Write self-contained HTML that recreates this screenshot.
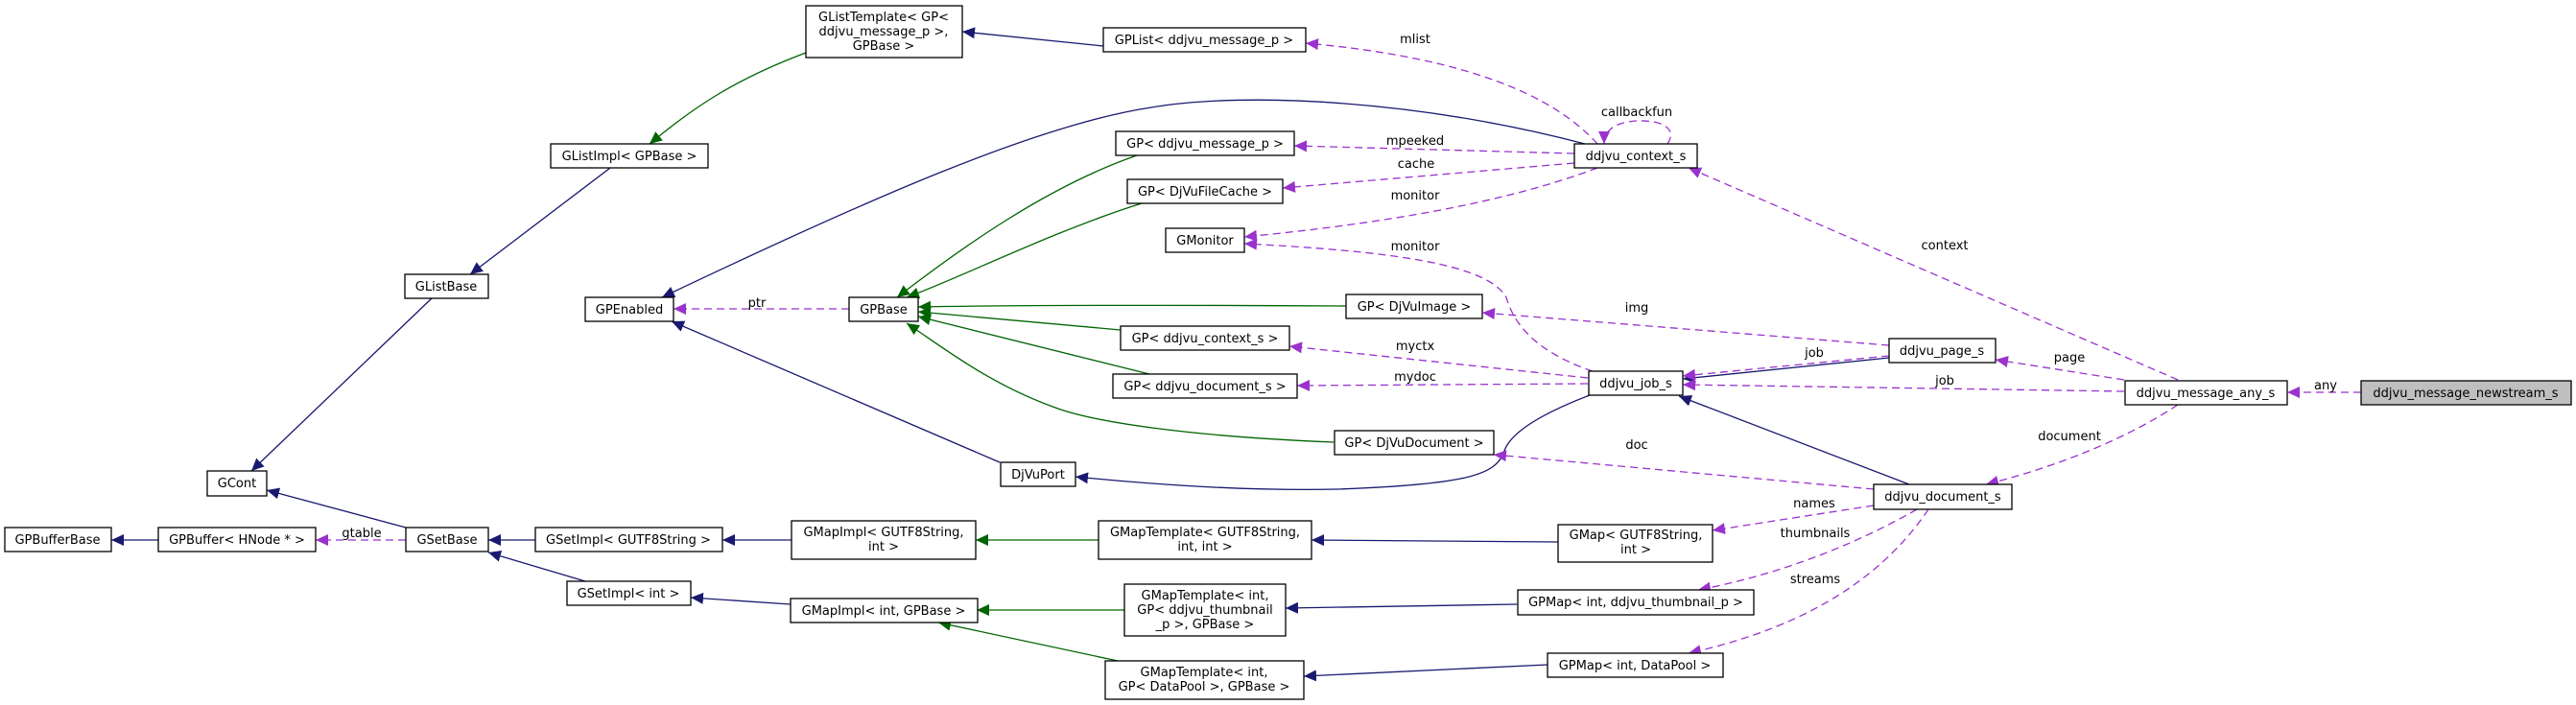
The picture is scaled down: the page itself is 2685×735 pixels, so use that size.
<!DOCTYPE html>
<html><head><meta charset="utf-8"><style>
html,body{margin:0;padding:0;background:#fff;}
svg{display:block;}
text{font-family:"DejaVu Sans","Liberation Sans",sans-serif;font-size:13px;fill:#000;}
.b{fill:#fff;stroke:#000;stroke-width:1.3;}
.n{fill:none;stroke:#191970;stroke-width:1.3;}
.g{fill:none;stroke:#006400;stroke-width:1.3;}
.p{fill:none;stroke:#9a32cd;stroke-width:1.3;stroke-dasharray:8,5;}
</style></head><body>
<svg width="2685" height="735" viewBox="0 0 2685 735" xmlns="http://www.w3.org/2000/svg">
<defs>
<marker id="an" markerUnits="userSpaceOnUse" markerWidth="14" markerHeight="12" refX="13" refY="6" orient="auto"><path d="M0,0 L13,6 L0,12 z" fill="#191970"/></marker>
<marker id="ag" markerUnits="userSpaceOnUse" markerWidth="14" markerHeight="12" refX="13" refY="6" orient="auto"><path d="M0,0 L13,6 L0,12 z" fill="#006400"/></marker>
<marker id="ap" markerUnits="userSpaceOnUse" markerWidth="14" markerHeight="12" refX="13" refY="6" orient="auto"><path d="M0,0 L13,6 L0,12 z" fill="#9a32cd"/></marker>
</defs>

<!-- navy edges -->
<path class="n" marker-end="url(#an)" d="M1150,48 L1003,33"/>
<path class="n" marker-end="url(#an)" d="M636,175 L490,286"/>
<path class="n" marker-end="url(#an)" d="M450,311 L262,491"/>
<path class="n" marker-end="url(#an)" d="M423,550 L278,511"/>
<path class="n" marker-end="url(#an)" d="M165,563 L116,563"/>
<path class="n" marker-end="url(#an)" d="M558,563 L509,563"/>
<path class="n" marker-end="url(#an)" d="M610,606 L509,576"/>
<path class="n" marker-end="url(#an)" d="M825,563 L753,563"/>
<path class="n" marker-end="url(#an)" d="M824,630 L720,623"/>
<path class="n" marker-end="url(#an)" d="M1652,150 C1480,105 1300,95 1200,112 C1080,130 900,210 690,310"/>
<path class="n" marker-end="url(#an)" d="M1042,482 L700,335"/>
<path class="n" marker-end="url(#an)" d="M1657,412 C1610,430 1575,450 1568,470 C1560,495 1530,505 1395,510 C1300,512 1200,505 1121,497"/>
<path class="n" marker-end="url(#an)" d="M1969,373 L1754,395"/>
<path class="n" marker-end="url(#an)" d="M1990,505 L1750,413"/>
<path class="n" marker-end="url(#an)" d="M1624,565 L1367,563"/>
<path class="n" marker-end="url(#an)" d="M1581,630 L1340,634"/>
<path class="n" marker-end="url(#an)" d="M1613,693 L1359,705"/>

<!-- green edges -->
<path class="g" marker-end="url(#ag)" d="M840,55 C760,85 720,115 677,150"/>
<path class="g" marker-end="url(#ag)" d="M1185,162 C1090,195 1000,260 935,310"/>
<path class="g" marker-end="url(#ag)" d="M1190,212 C1100,240 1000,290 945,310"/>
<path class="g" marker-end="url(#ag)" d="M1403,319 C1250,318 1050,318 957,320"/>
<path class="g" marker-end="url(#ag)" d="M1168,344 L957,325"/>
<path class="g" marker-end="url(#ag)" d="M1198,390 L957,330"/>
<path class="g" marker-end="url(#ag)" d="M1390,461 C1240,455 1140,440 1100,425 C1030,400 980,360 945,337"/>
<path class="g" marker-end="url(#ag)" d="M1145,563 L1017,563"/>
<path class="g" marker-end="url(#ag)" d="M1172,636 L1018,636"/>
<path class="g" marker-end="url(#ag)" d="M1165,689 L978,649"/>

<!-- purple dashed edges -->
<path class="p" marker-end="url(#ap)" d="M885,322 L702,322"/>
<path class="p" marker-end="url(#ap)" d="M423,563 L329,563"/>
<path class="p" marker-end="url(#ap)" d="M1665,150 C1620,100 1530,60 1361,45"/>
<path class="p" marker-end="url(#ap)" d="M1738,150 C1748,135 1735,125 1705,126 C1680,128 1672,138 1672,150"/>
<path class="p" marker-end="url(#ap)" d="M1641,160 L1349,152"/>
<path class="p" marker-end="url(#ap)" d="M1641,170 L1337,196"/>
<path class="p" marker-end="url(#ap)" d="M1665,175 C1560,215 1420,235 1297,247"/>
<path class="p" marker-end="url(#ap)" d="M1660,387 C1610,370 1580,345 1570,310 C1550,275 1450,262 1297,254"/>
<path class="p" marker-end="url(#ap)" d="M1969,360 L1545,326"/>
<path class="p" marker-end="url(#ap)" d="M1655,394 L1344,361"/>
<path class="p" marker-end="url(#ap)" d="M1655,400 L1352,402"/>
<path class="p" marker-end="url(#ap)" d="M1969,371 L1754,392"/>
<path class="p" marker-end="url(#ap)" d="M2214,408 L1754,401"/>
<path class="p" marker-end="url(#ap)" d="M2214,396 L2080,375"/>
<path class="p" marker-end="url(#ap)" d="M2270,396 L1760,175"/>
<path class="p" marker-end="url(#ap)" d="M2270,422 C2220,455 2150,485 2070,505"/>
<path class="p" marker-end="url(#ap)" d="M2461,409 L2384,409"/>
<path class="p" marker-end="url(#ap)" d="M1953,510 L1557,474"/>
<path class="p" marker-end="url(#ap)" d="M1953,527 L1785,553"/>
<path class="p" marker-end="url(#ap)" d="M1998,531 C1930,570 1850,600 1770,615"/>
<path class="p" marker-end="url(#ap)" d="M2010,531 C1970,590 1900,650 1760,681"/>

<!-- edge labels -->
<g text-anchor="middle">
<text x="789" y="320">ptr</text>
<text x="377" y="560">gtable</text>
<text x="1475" y="45">mlist</text>
<text x="1706" y="121">callbackfun</text>
<text x="1475" y="151">mpeeked</text>
<text x="1476" y="175">cache</text>
<text x="1475" y="208">monitor</text>
<text x="1475" y="261">monitor</text>
<text x="1706" y="325">img</text>
<text x="1475" y="365">myctx</text>
<text x="1475" y="397">mydoc</text>
<text x="1706" y="468">doc</text>
<text x="2027" y="260">context</text>
<text x="1891" y="372">job</text>
<text x="2157" y="377">page</text>
<text x="2027" y="401">job</text>
<text x="2424" y="406">any</text>
<text x="2157" y="459">document</text>
<text x="1891" y="529">names</text>
<text x="1892" y="560">thumbnails</text>
<text x="1892" y="608">streams</text>
</g>

<!-- nodes -->
<g text-anchor="middle">
<rect class="b" x="840" y="6" width="163" height="54"/>
<text x="921" y="22">GListTemplate&lt; GP&lt;</text><text x="921" y="37">ddjvu_message_p &gt;,</text><text x="921" y="52">GPBase &gt;</text>

<rect class="b" x="1150" y="29" width="211" height="25"/><text x="1255" y="46">GPList&lt; ddjvu_message_p &gt;</text>
<rect class="b" x="574" y="150" width="164" height="25"/><text x="656" y="167">GListImpl&lt; GPBase &gt;</text>
<rect class="b" x="422" y="286" width="87" height="25"/><text x="465" y="303">GListBase</text>
<rect class="b" x="610" y="310" width="92" height="25"/><text x="656" y="327">GPEnabled</text>
<rect class="b" x="216" y="491" width="62" height="26"/><text x="247" y="508">GCont</text>
<rect class="b" x="5" y="550" width="111" height="25"/><text x="60" y="567">GPBufferBase</text>
<rect class="b" x="165" y="550" width="164" height="25"/><text x="247" y="567">GPBuffer&lt; HNode * &gt;</text>
<rect class="b" x="423" y="550" width="86" height="25"/><text x="466" y="567">GSetBase</text>
<rect class="b" x="558" y="550" width="195" height="25"/><text x="655" y="567">GSetImpl&lt; GUTF8String &gt;</text>
<rect class="b" x="591" y="606" width="129" height="25"/><text x="655" y="623">GSetImpl&lt; int &gt;</text>
<rect class="b" x="825" y="543" width="192" height="40"/><text x="921" y="559">GMapImpl&lt; GUTF8String,</text><text x="921" y="574">int &gt;</text>
<rect class="b" x="824" y="624" width="195" height="25"/><text x="921" y="641">GMapImpl&lt; int, GPBase &gt;</text>

<rect class="b" x="885" y="310" width="72" height="25"/><text x="921" y="327">GPBase</text>
<rect class="b" x="1163" y="137" width="186" height="25"/><text x="1256" y="154">GP&lt; ddjvu_message_p &gt;</text>
<rect class="b" x="1175" y="187" width="162" height="25"/><text x="1256" y="204">GP&lt; DjVuFileCache &gt;</text>
<rect class="b" x="1215" y="238" width="82" height="25"/><text x="1256" y="255">GMonitor</text>
<rect class="b" x="1641" y="150" width="128" height="25"/><text x="1705" y="167">ddjvu_context_s</text>
<rect class="b" x="1403" y="307" width="142" height="25"/><text x="1474" y="324">GP&lt; DjVuImage &gt;</text>
<rect class="b" x="1168" y="340" width="176" height="25"/><text x="1256" y="357">GP&lt; ddjvu_context_s &gt;</text>
<rect class="b" x="1160" y="390" width="192" height="25"/><text x="1256" y="407">GP&lt; ddjvu_document_s &gt;</text>
<rect class="b" x="1656" y="387" width="98" height="25"/><text x="1705" y="404">ddjvu_job_s</text>
<rect class="b" x="1391" y="449" width="166" height="25"/><text x="1474" y="466">GP&lt; DjVuDocument &gt;</text>
<rect class="b" x="1043" y="482" width="78" height="25"/><text x="1082" y="499">DjVuPort</text>
<rect class="b" x="1145" y="543" width="222" height="40"/><text x="1256" y="559">GMapTemplate&lt; GUTF8String,</text><text x="1256" y="574">int, int &gt;</text>
<rect class="b" x="1624" y="547" width="161" height="39"/><text x="1705" y="562">GMap&lt; GUTF8String,</text><text x="1705" y="577">int &gt;</text>
<rect class="b" x="1172" y="609" width="168" height="54"/><text x="1256" y="625">GMapTemplate&lt; int,</text><text x="1256" y="640">GP&lt; ddjvu_thumbnail</text><text x="1256" y="655">_p &gt;, GPBase &gt;</text>
<rect class="b" x="1582" y="615" width="246" height="26"/><text x="1705" y="632">GPMap&lt; int, ddjvu_thumbnail_p &gt;</text>
<rect class="b" x="1152" y="689" width="207" height="40"/><text x="1255" y="705">GMapTemplate&lt; int,</text><text x="1255" y="720">GP&lt; DataPool &gt;, GPBase &gt;</text>
<rect class="b" x="1613" y="681" width="183" height="25"/><text x="1704" y="698">GPMap&lt; int, DataPool &gt;</text>

<rect class="b" x="1969" y="353" width="111" height="25"/><text x="2024" y="370">ddjvu_page_s</text>
<rect class="b" x="2215" y="397" width="169" height="25"/><text x="2299" y="414">ddjvu_message_any_s</text>
<rect x="2461" y="397" width="219" height="25" fill="#bfbfbf" stroke="#000" stroke-width="1.3"/><text x="2570" y="414">ddjvu_message_newstream_s</text>
<rect class="b" x="1953" y="505" width="144" height="26"/><text x="2025" y="522">ddjvu_document_s</text>
</g>
</svg>
</body></html>
